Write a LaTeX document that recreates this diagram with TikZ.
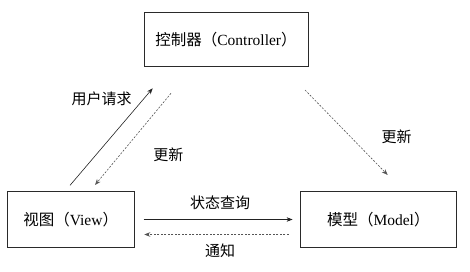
\documentclass[tikz,border=0pt]{standalone}
\usepackage{fontspec}
\setmainfont{Liberation Serif}
\newfontfamily\cjk{Noto Sans CJK SC}
\usetikzlibrary{positioning, arrows.meta, calc}
\definecolor{boxDraw}{HTML}{2A2A2A}
\definecolor{lineDraw}{HTML}{222222}
\definecolor{dashDraw}{HTML}{555555}

\begin{document}
\begin{tikzpicture}[
  x=1pt, y=-1pt,
  font=\fontsize{15.5}{18}\selectfont,
  box/.style={rectangle, draw=boxDraw, line width=0.7pt, align=center,
              inner sep=0pt},
  arr/.style={-{Stealth[length=6pt,width=4.5pt]}, line width=0.6pt, draw=lineDraw},
  darr/.style={-{Stealth[length=6pt,width=4.5pt]}, line width=0.6pt, draw=dashDraw,
               dash pattern=on 2pt off 1.5pt},
  lbl/.style={font=\cjk\fontsize{15}{18}\selectfont, inner sep=0pt},
]
\useasboundingbox (0,0) rectangle (470,272);

% ---- Boxes ----
\node[box, minimum width=164pt, minimum height=54pt] (ctrl)  at (226,39.7)
     {{\cjk 控制器（}Controller{\cjk ）}};
\node[box, minimum width=127pt, minimum height=55.6pt] (view)  at (70.7,219.5)
     {{\cjk 视图（}View{\cjk ）}};
\node[box, minimum width=156.7pt, minimum height=55.6pt] (model) at (378.3,219.5)
     {{\cjk 模型（}Model{\cjk ）}};

% ---- Connector ends ----
\coordinate (reqS) at ($(view.north)+(-0.7,-6)$);
\coordinate (reqE) at (152.7,88.3);
\coordinate (updS) at (171,93.3);
\coordinate (updE) at (95,185);
\coordinate (mupS) at (305,90);
\coordinate (mupE) at (387.7,175);
\coordinate (qryS) at ($(view.east)+(9,0)$);
\coordinate (qryE) at ($(model.west)+(-7,0)$);
\coordinate (ntfS) at ($(model.west)+(-10.7,15)$);
\coordinate (ntfE) at ($(view.east)+(9.7,15)$);

% ---- View <-> Controller ----
\draw[arr]  (reqS) -- (reqE);
\draw[darr] (updS) -- (updE);
\node[lbl] (reqL) at (101.7,99.3) {用户请求};
\node[lbl] (updL) at (168.3,154.3) {更新};

% ---- Controller -> Model ----
\draw[darr] (mupS) -- (mupE);
\node[lbl] (mupL) at (396.7,136.7) {更新};

% ---- View <-> Model ----
\draw[arr]  (qryS) -- (qryE);
\draw[darr] (ntfS) -- (ntfE);
\node[lbl] (qryL) at (220,202.7) {状态查询};
\node[lbl] (ntfL) at (220,250.7) {通知};

\end{tikzpicture}
\end{document}
